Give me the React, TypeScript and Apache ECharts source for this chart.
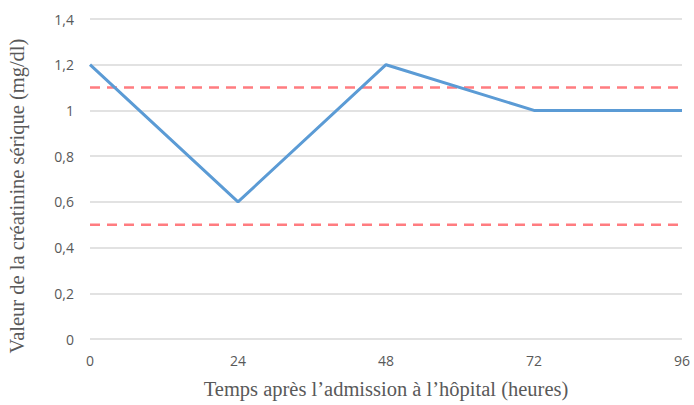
import React, { useEffect, useRef } from "react";
import * as echarts from "echarts";

const hours = [0, 24, 48, 72, 96];
const creatinine = [1.2, 0.6, 1.2, 1.0, 1.0];
const upperLimit = 1.1;
const lowerLimit = 0.5;
const yAxisTitle = "Valeur de la créatinine sérique (mg/dl)";
const xAxisTitle = "Temps après l’admission à l’hôpital (heures)";

const fmt = (v: number) => String(Math.round(v * 10) / 10).replace(".", ",");

export default function App() {
  const ref = useRef<HTMLDivElement>(null);
  useEffect(() => {
    const chart = echarts.init(ref.current!, null, { renderer: "svg" });
    const xMin = hours[0];
    const xMax = hours[hours.length - 1];
    chart.setOption({
      animation: false,
      backgroundColor: "#ffffff",
      grid: { left: 90, right: 12, top: 19, bottom: 66, containLabel: false },
      xAxis: {
        type: "value",
        min: 0,
        max: 96,
        interval: 24,
        name: xAxisTitle,
        nameLocation: "middle",
        nameGap: 39,
        nameTextStyle: { fontFamily: "Liberation Serif", fontSize: 20.5, color: "#595959" },
        axisLine: { show: false },
        axisTick: { show: false },
        splitLine: { show: false },
        axisLabel: { color: "#595959", fontFamily: "Open Sans", fontSize: 14, margin: 14 },
      },
      yAxis: {
        type: "value",
        min: 0,
        max: 1.4,
        interval: 0.2,
        axisLine: { show: false },
        axisTick: { show: false },
        splitLine: { show: true, lineStyle: { color: "#d9d9d9", width: 1.5 } },
        axisLabel: {
          color: "#595959",
          fontFamily: "Open Sans",
          fontSize: 14,
          margin: 16,
          formatter: (v: number) => fmt(v),
        },
      },
      graphic: [
        {
          type: "text",
          x: 17,
          y: 196,
          rotation: Math.PI / 2,
          style: {
            text: yAxisTitle,
            fontFamily: "Liberation Serif",
            fontSize: 20.5,
            fill: "#595959",
            align: "center",
            verticalAlign: "middle",
          },
        },
      ],
      series: [
        {
          type: "line",
          data: [
            [xMin, upperLimit],
            [xMax, upperLimit],
          ],
          symbol: "none",
          lineStyle: { color: "#ff7c80", width: 2.5, type: [10, 7] },
          z: 2,
        },
        {
          type: "line",
          data: [
            [xMin, lowerLimit],
            [xMax, lowerLimit],
          ],
          symbol: "none",
          lineStyle: { color: "#ff7c80", width: 2.5, type: [10, 7] },
          z: 2,
        },
        {
          type: "line",
          data: hours.map((h, i) => [h, creatinine[i]]),
          symbol: "none",
          lineStyle: { color: "#5b9bd5", width: 3 },
          z: 3,
        },
      ],
    });
    return () => chart.dispose();
  }, []);
  return <div ref={ref} style={{ width: 694, height: 405, position: "absolute", left: 0, top: 0 }} />;
}
